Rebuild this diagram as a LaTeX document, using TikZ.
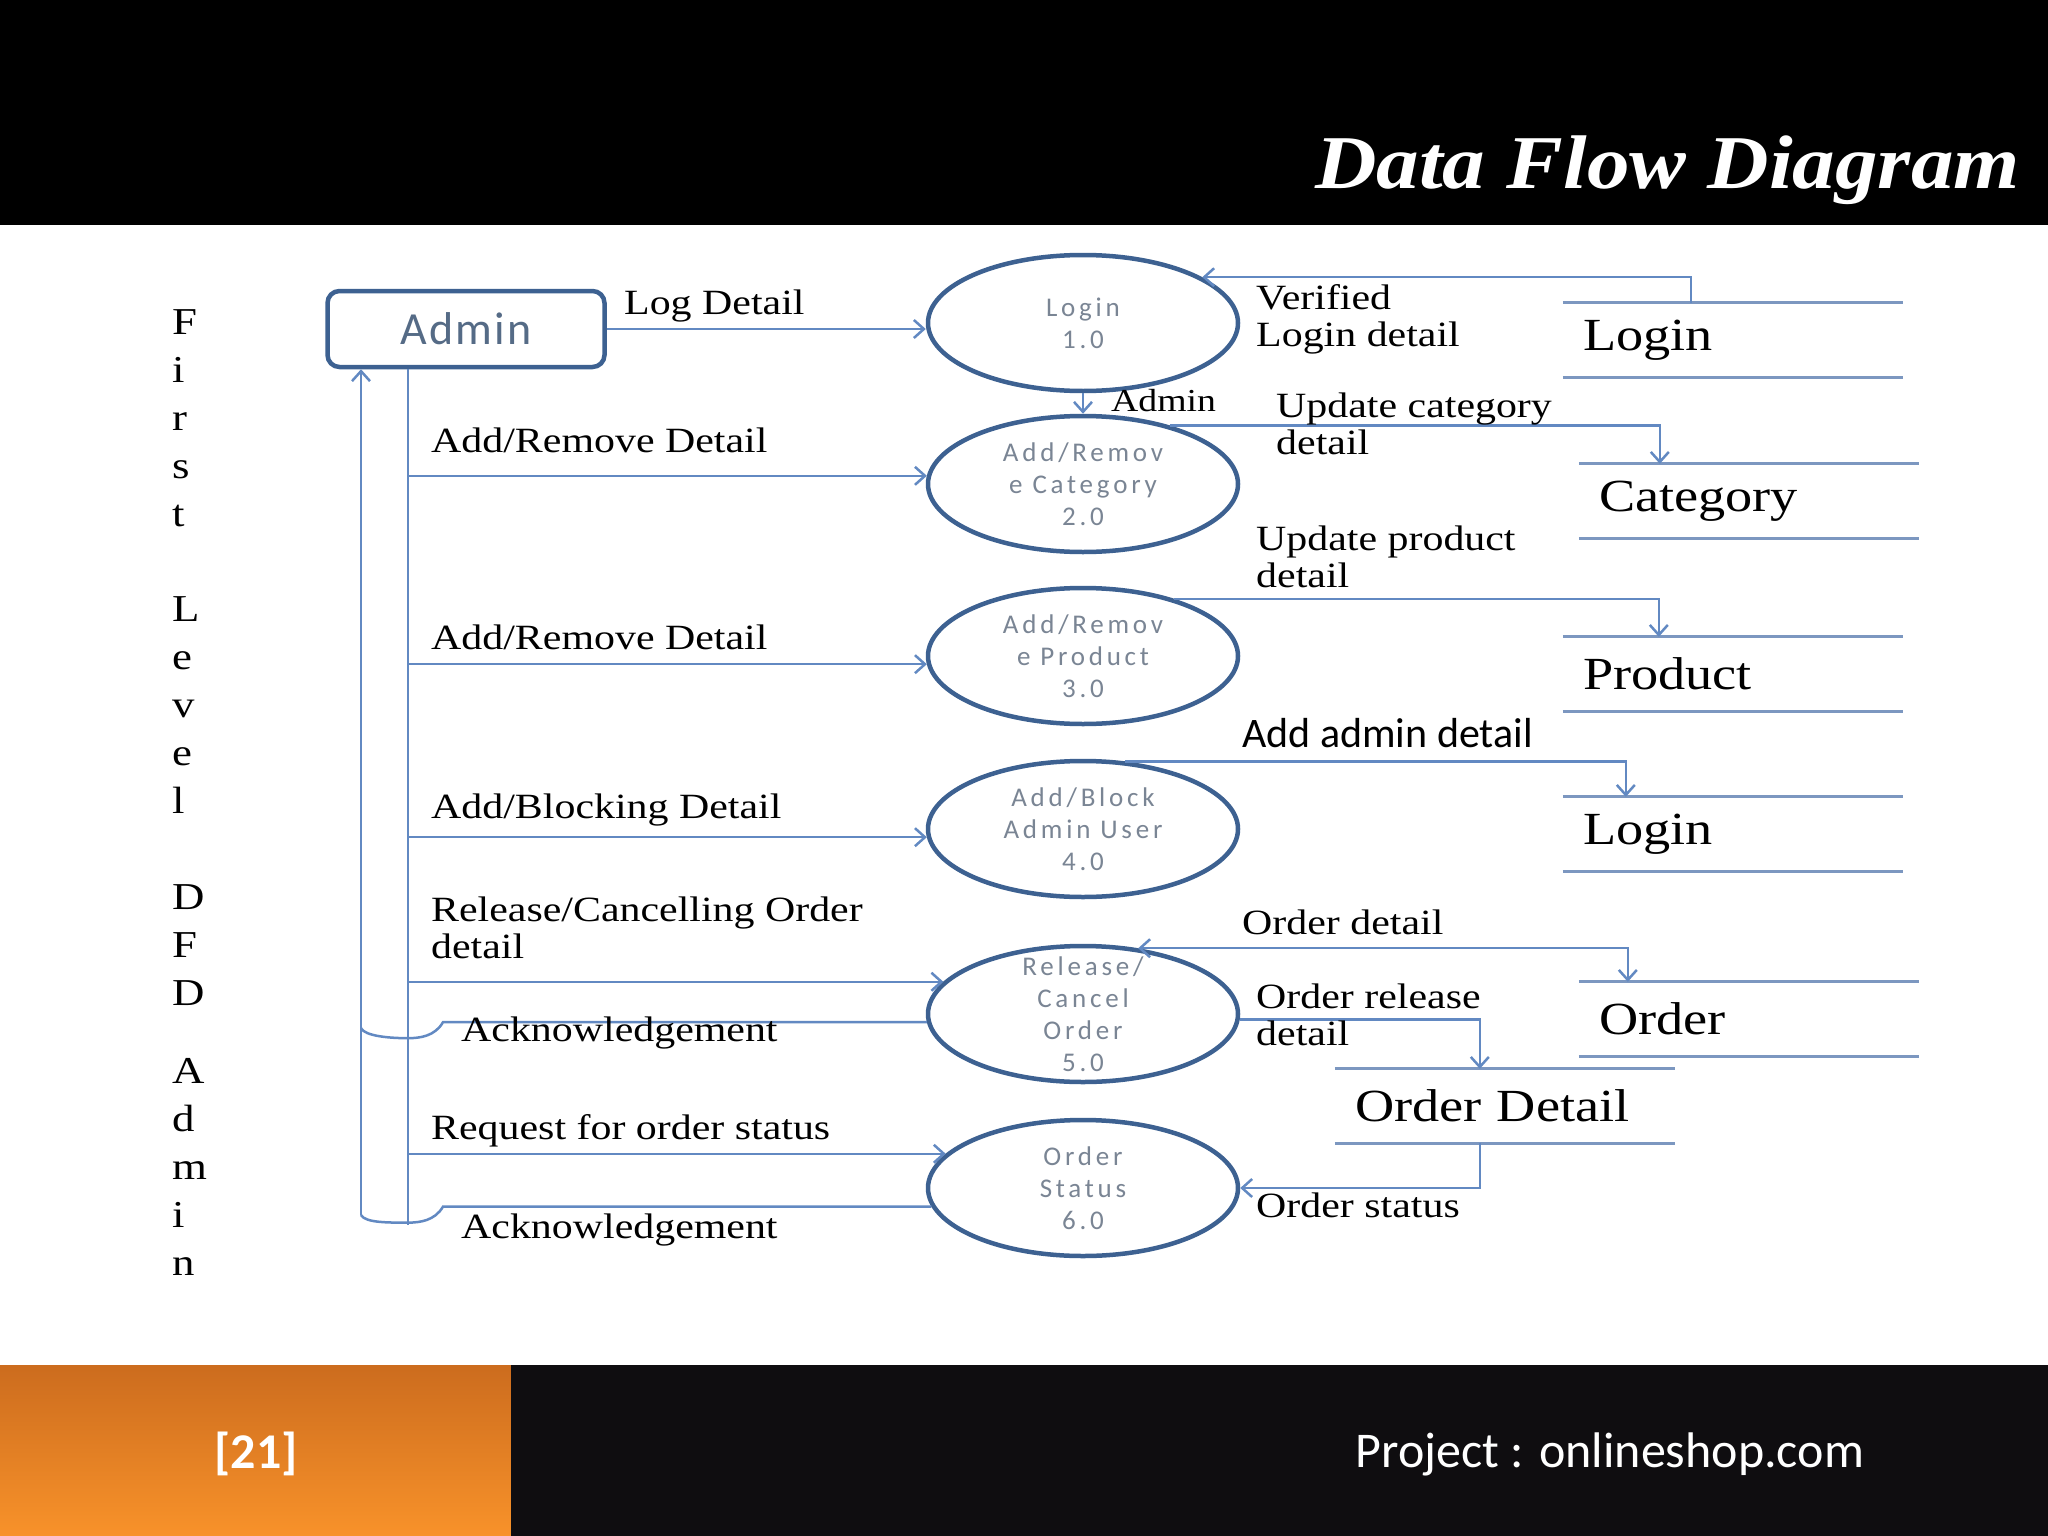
\documentclass[tikz,border=0pt]{standalone}
\usepackage{fontspec}
\usepackage{tikz}
\usetikzlibrary{arrows.meta,positioning,shapes.geometric,calc}
\setmainfont{Liberation Serif}
\newfontfamily\lblfont[FakeStretch=1.18]{Liberation Serif}
\newfontfamily\titlefont[FakeStretch=1.12]{Liberation Serif}
\newfontfamily\procfont[LetterSpace=14]{Carlito}
\newfontfamily\boxfont[LetterSpace=5]{Carlito}
\newfontfamily\footfont{Carlito}
\definecolor{procblue}{HTML}{3D6191}
\definecolor{flowblue}{HTML}{6289C2}
\definecolor{storeblue}{HTML}{7C97C0}
\definecolor{procgray}{HTML}{7A8594}
\definecolor{admingray}{HTML}{556B86}
\definecolor{orangetop}{HTML}{CC6C1E}
\definecolor{orangebot}{HTML}{F8922A}
\definecolor{footblack}{HTML}{0F0D10}

\begin{document}
\begin{tikzpicture}[x=1pt, y=-1pt,
    >={Straight Barb[length=10pt,width=18pt]},
    proc/.style={draw=procblue, line width=4.5pt, ellipse, minimum width=310pt, minimum height=136pt, inner sep=0pt},
    ptext/.style={text=procgray, font=\procfont\fontsize{27}{32}\selectfont, align=center, inner sep=0pt},
    store/.style={minimum width=340pt, minimum height=74pt, inner sep=0pt, text width=300pt, align=left, font=\lblfont\fontsize{46}{50}\selectfont},
    sline/.style={draw=storeblue, line width=3pt},
    fline/.style={draw=flowblue, line width=2.5pt},
    flow/.style={fline, ->},
    dflow/.style={fline, <->},
    lbl/.style={anchor=west, inner sep=0pt, align=left, font=\lblfont\fontsize{35.5}{37}\selectfont},
    vlet/.style={anchor=base west, inner sep=0pt, font=\lblfont\fontsize{38}{40}\selectfont}
]
\fill[white] (0,0) rectangle (2048,1536);
\useasboundingbox (0,0) rectangle (2048,1536);

\fill[black] (0,0) rectangle (2048,225);
\node[anchor=base east, inner sep=0pt, text=white, font=\titlefont\bfseries\itshape\fontsize{76}{80}\selectfont] (title) at (2020,188) {Data Flow Diagram};

\shade[top color=orangetop, bottom color=orangebot] (0,1365) rectangle (511,1536);
\fill[footblack] (511,1365) rectangle (2048,1536);
\node[text=white, font=\footfont\bfseries\fontsize{50}{56}\selectfont] (pgno) at (256,1454) {[21]};
\node[text=white, font=\footfont\fontsize{50}{56}\selectfont] (proj) at (1610,1454) {Project : onlineshop.com};

\foreach \ch/\yy [count=\k] in {F/334, i/382, r/430, s/478, t/526, L/621, e/669, v/717, e/765, l/813, D/909, F/957, D/1005, A/1083, d/1131, m/1179, i/1227, n/1275}
  \node[vlet] (v\k) at (172,\yy) {\ch};

\node[draw=procblue, line width=4.5pt, rounded corners=12pt, minimum width=277pt, minimum height=76pt, text=admingray, font=\boxfont\fontsize{46}{50}\selectfont] (admin) at (466,329) {Admin};

\node[proc, label={[ptext, name=t1]center:{Login\\1.0}}] (p1) at (1083,323) {};
\node[proc, label={[ptext, name=t2]center:{Add/Remov\\e Category\\2.0}}] (p2) at (1083,484) {};
\node[proc, label={[ptext, name=t3]center:{Add/Remov\\e Product\\3.0}}] (p3) at (1083,656) {};
\node[proc, label={[ptext, name=t4]center:{Add/Block\\Admin User\\4.0}}] (p4) at (1083,829) {};
\node[proc, label={[ptext, name=t5]center:{Release/\\Cancel\\Order\\5.0}}] (p5) at (1083,1014) {};
\node[proc, label={[ptext, name=t6]center:{Order\\Status\\6.0}}] (p6) at (1083,1188) {};

\node[store] (s1) at (1733,340) {Login};
\node[store] (s2) at (1749,501) {Category};
\node[store] (s3) at (1733,674) {Product};
\node[store] (s4) at (1733,834) {Login};
\node[store] (s5) at (1749,1019) {Order};
\node[store] (s6) at (1505,1106) {Order Detail};
\foreach \s in {1,...,6}
  \draw[sline] (s\s.north west) -- (s\s.north east) (s\s.south west) -- (s\s.south east);

\coordinate (tin) at (408,1225);
\coordinate (tout) at (361,1215);
\draw[fline] (admin.south -| tin) -- (tin);
\draw[flow] (tout) -- (tout |- admin.south);

\draw[flow] (admin.east) -- (admin.east -| p1.west);
\draw[flow] (tin |- p2.177) -- (p2.177);
\draw[flow] (tin |- p3.183) -- (p3.183);
\draw[flow] (tin |- p4.183) -- (p4.183);
\draw[flow] (tin |- p5.167) -- (p5.167);
\draw[flow] (tin |- p6.166) -- (p6.166);
\draw[fline] (p5.183) -- ($(tin |- p5.183)+(35,0)$) .. controls +(-8,14) and +(12,0) .. ++(-35,16) .. controls +(-18,0) and +(4,8) .. ++(-47,-10);
\draw[fline] (p6.187) -- ($(tin |- p6.187)+(35,0)$) .. controls +(-8,14) and +(12,0) .. ++(-35,16) .. controls +(-18,0) and +(4,8) .. (tout);

\draw[flow] (p1.south) -- (p2.north);
\draw[flow] ($(s1.north west)+(128,0)$) |- (p1.21);
\draw[flow] (p2.34) -| ($(s2.north west)+(81,0)$);
\draw[flow] (p3.32) -| ($(s3.north west)+(96,0)$);
\draw[flow] (p4.58) -| ($(s4.north west)+(63,0)$);
\draw[dflow] (p5.50) -| ($(s5.north west)+(49,0)$);
\draw[flow] (p5.-2) -| ($(s6.north west)+(145,0)$);
\draw[flow] ($(s6.south west)+(145,0)$) |- (p6.east);

\node[lbl] (l1) at (624,306) {Log Detail};
\node[lbl] (l2) at (431,440) {Add/Remove Detail};
\node[lbl] (l3) at (431,637) {Add/Remove Detail};
\node[lbl] (l4) at (431,810) {Add/Blocking Detail};
\node[lbl] (l5) at (431,928) {Release/Cancelling Order\\detail};
\node[lbl] (l6) at (461,1033) {Acknowledgement};
\node[lbl] (l7) at (431,1131) {Request for order status};
\node[lbl] (l8) at (461,1230) {Acknowledgement};
\node[lbl] (l9) at (1256,319) {Verified\\Login detail};
\node[lbl, font=\lblfont\fontsize{32}{36}\selectfont] (l10) at (1111,401) {Admin};
\node[lbl] (l11) at (1276,424) {Update category\\detail};
\node[lbl] (l12) at (1256,557) {Update product\\detail};
\node[lbl, font=\footfont\fontsize{42}{46}\selectfont] (l13) at (1242,733) {Add admin detail};
\node[lbl] (l14) at (1242,922) {Order detail};
\node[lbl] (l15) at (1256,1015) {Order release\\detail};
\node[lbl] (l16) at (1256,1205) {Order status};
\end{tikzpicture}
\end{document}
